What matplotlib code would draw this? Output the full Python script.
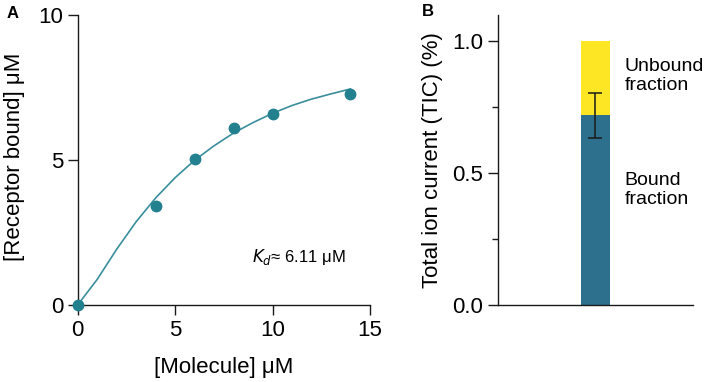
import matplotlib.pyplot as plt
from matplotlib.ticker import MultipleLocator

plt.rcParams['font.family'] = ['Liberation Sans', 'DejaVu Sans']

# panel A: binding data and fitted curve
molecule = [0, 4, 6, 8, 10, 14]
bound = [0, 3.42, 5.03, 6.11, 6.58, 7.27]
fit_x = [0, 1, 2, 3, 4, 5, 6, 7, 8, 9, 10, 11, 12, 13, 14]
fit_y = [0, 0.88, 1.92, 2.87, 3.69, 4.39, 4.99, 5.49, 5.93, 6.29, 6.61, 6.88, 7.1, 7.28, 7.45]
kd_text = r'$K_d$' + '\u2248 6.11 \u03bcM'

# panel B: fractions of total ion current
bound_frac = 0.718
unbound_frac = 1 - bound_frac
bound_err = 0.085

dot_col = '#23808f'
line_col = '#3a8e9c'
bound_col = '#2c708d'
unbound_col = '#fde725'
ink = '#1a1a1a'

fig = plt.figure(figsize=(7.06, 3.82), dpi=100)
ax1 = fig.add_axes([0.110, 0.2016, 0.414, 0.7591])
ax2 = fig.add_axes([0.705, 0.2016, 0.2766, 0.7591])

# ---- A ----
ax1.plot(fit_x, fit_y, color=line_col, lw=1.2, clip_on=False, zorder=2)
ax1.plot(molecule, bound, 'o', color=dot_col, ms=7.5, clip_on=False, zorder=3)
ax1.set_xlim(0, 15)
ax1.set_ylim(0, 10)
ax1.set_xticks([0, 5, 10, 15])
ax1.set_yticks([0, 5, 10])
ax1.set_xlabel('[Molecule] \u03bcM', fontsize=16, labelpad=12)
ax1.set_ylabel('[Receptor bound] \u03bcM', fontsize=16)
ax1.yaxis.set_label_coords(-0.18, 0.51)
ax1.text(8.95, 1.65, kd_text, fontsize=12, va='center', ha='left')

# ---- B ----
ax2.bar([0], [bound_frac], width=0.3, color=bound_col, zorder=2)
ax2.bar([0], [unbound_frac], bottom=[bound_frac], width=0.3, color=unbound_col, zorder=2)
ax2.errorbar([0], [bound_frac], yerr=[bound_err], fmt='none', ecolor=ink,
             elinewidth=1.1, capsize=5, capthick=1.1, zorder=3)
ax2.set_xlim(-1, 1)
ax2.set_ylim(0, 1.097)
ax2.set_xticks([])
ax2.set_yticks([0, 0.5, 1.0])
ax2.set_yticklabels(['0.0', '0.5', '1.0'])
ax2.yaxis.set_minor_locator(MultipleLocator(0.25))
ax2.set_ylabel('Total ion current (TIC) (%)', fontsize=16)
ax2.yaxis.set_label_coords(-0.28, 0.5)
ax2.text(0.3, 0.866, 'Unbound\nfraction', fontsize=14, va='center', ha='left', linespacing=1.1)
ax2.text(0.3, 0.435, 'Bound\nfraction', fontsize=14, va='center', ha='left', linespacing=1.1)

for ax in (ax1, ax2):
    for s in ('top', 'right'):
        ax.spines[s].set_visible(False)
    for s in ('left', 'bottom'):
        ax.spines[s].set_linewidth(1.0)
        ax.spines[s].set_color(ink)
    ax.tick_params(which='major', length=7.5, width=1.0, color=ink, labelsize=16, pad=3)
    ax.tick_params(which='minor', length=4, width=1.0, color=ink)

fig.text(0.010, 0.965, 'A', fontsize=12, fontweight='bold', va='center')
fig.text(0.598, 0.97, 'B', fontsize=12, fontweight='bold', va='center')

fig.savefig('out.png', dpi=100)
